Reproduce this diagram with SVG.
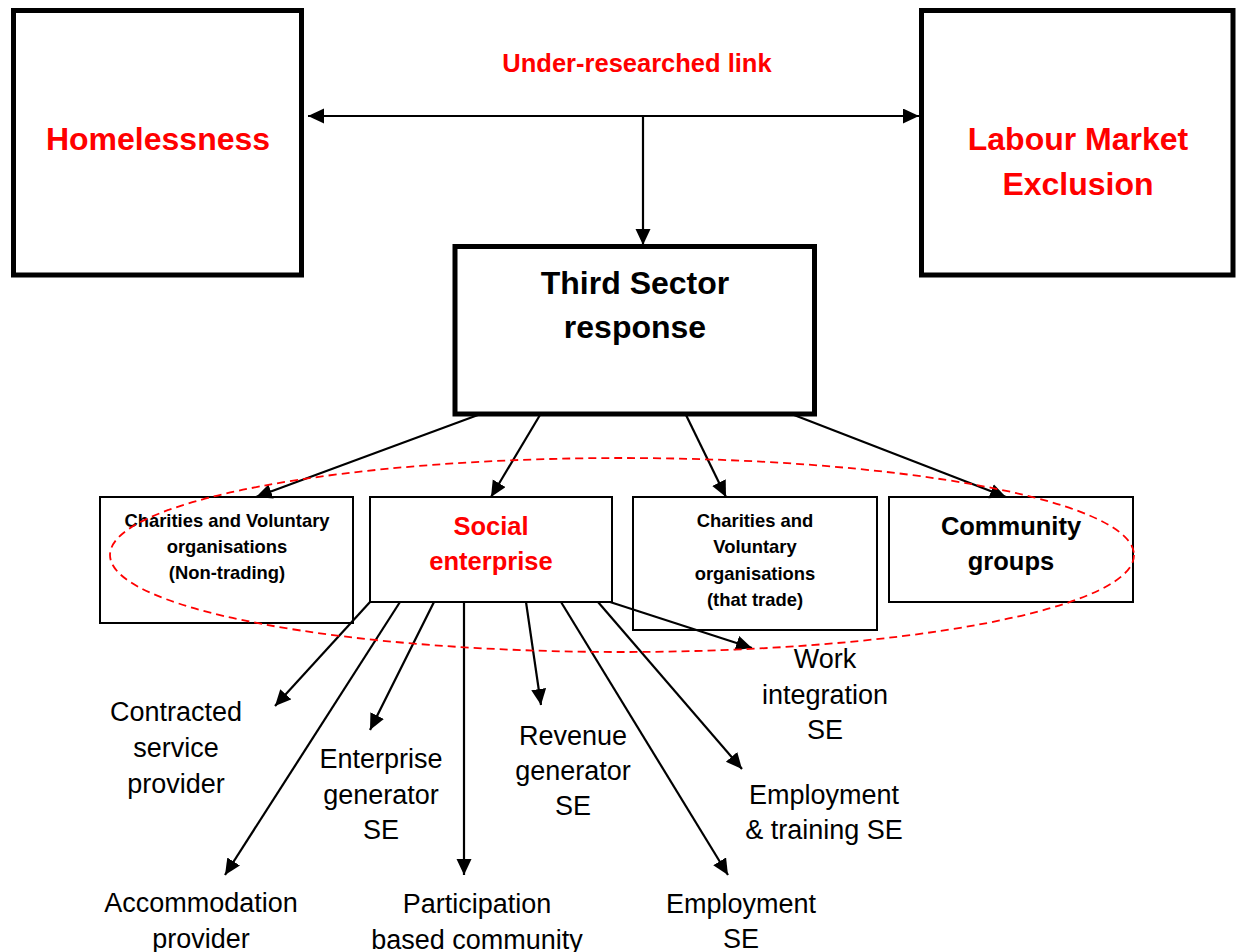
<svg xmlns="http://www.w3.org/2000/svg" width="1240" height="952" viewBox="0 0 1240 952">
  <defs>
    <marker id="arrow" markerUnits="userSpaceOnUse" markerWidth="17" markerHeight="16" refX="16" refY="7.5" orient="auto">
      <path d="M0,0 L16,7.5 L0,15 z" fill="#000"/>
    </marker>
    <style>
      text { font-family: "Liberation Sans", Arial, sans-serif; text-anchor: middle; }
      .big { fill: #fff; stroke: #000; stroke-width: 5; }
      .box { fill: #fff; stroke: #000; stroke-width: 2; }
      .title { font-size: 32px; font-weight: bold; }
      .red { fill: #ff0000; }
      .mid { font-size: 25.5px; font-weight: bold; }
      .small { font-size: 18.4px; font-weight: bold; }
      .label { font-size: 27px; fill: #000; }
      .conn line { stroke: #000; stroke-width: 2.2; marker-end: url(#arrow); }
      .ring { fill: none; stroke: #ff0000; stroke-width: 1.8; stroke-dasharray: 8 5; }
    </style>
  </defs>

  <rect width="1240" height="952" fill="#fff"/>

  <!-- top-level problem boxes -->
  <g id="homelessness">
    <rect class="big" x="13.5" y="10.5" width="288" height="264.5"/>
    <text class="title red" x="158" y="150">Homelessness</text>
  </g>

  <g id="labour-market-exclusion">
    <rect class="big" x="921.5" y="10.5" width="311.5" height="264.5"/>
    <text class="title red" x="1078" y="150">Labour Market</text>
    <text class="title red" x="1078" y="195">Exclusion</text>
  </g>

  <g id="link-label">
    <text class="mid red" x="637" y="72">Under-researched link</text>
  </g>

  <g id="third-sector">
    <rect class="big" x="455" y="246.5" width="359.5" height="167.5"/>
    <text class="title" x="635" y="294">Third Sector</text>
    <text class="title" x="635" y="338">response</text>
  </g>

  <!-- third sector organisation types -->
  <g id="charities-non-trading">
    <rect class="box" x="100" y="497" width="253" height="126"/>
    <text class="small" x="227" y="527">Charities and Voluntary</text>
    <text class="small" x="227" y="553">organisations</text>
    <text class="small" x="227" y="579">(Non-trading)</text>
  </g>

  <g id="social-enterprise">
    <rect class="box" x="370" y="497" width="242" height="105"/>
    <text class="mid red" x="491" y="535">Social</text>
    <text class="mid red" x="491" y="570">enterprise</text>
  </g>

  <g id="charities-trading">
    <rect class="box" x="633" y="497" width="244" height="133"/>
    <text class="small" x="755" y="527">Charities and</text>
    <text class="small" x="755" y="553">Voluntary</text>
    <text class="small" x="755" y="580">organisations</text>
    <text class="small" x="755" y="606">(that trade)</text>
  </g>

  <g id="community-groups">
    <rect class="box" x="889" y="497" width="244" height="105"/>
    <text class="mid" x="1011" y="535">Community</text>
    <text class="mid" x="1011" y="570">groups</text>
  </g>

  <!-- social enterprise sub-types -->
  <g id="contracted-service-provider">
    <text class="label" x="176" y="721">Contracted</text>
    <text class="label" x="176" y="757">service</text>
    <text class="label" x="176" y="793">provider</text>
  </g>

  <g id="accommodation-provider">
    <text class="label" x="201" y="912">Accommodation</text>
    <text class="label" x="201" y="948">provider</text>
  </g>

  <g id="enterprise-generator">
    <text class="label" x="381" y="768">Enterprise</text>
    <text class="label" x="381" y="804">generator</text>
    <text class="label" x="381" y="839">SE</text>
  </g>

  <g id="participation-community">
    <text class="label" x="477" y="913">Participation</text>
    <text class="label" x="477" y="949">based community</text>
  </g>

  <g id="revenue-generator">
    <text class="label" x="573" y="745">Revenue</text>
    <text class="label" x="573" y="780">generator</text>
    <text class="label" x="573" y="815">SE</text>
  </g>

  <g id="work-integration">
    <text class="label" x="825" y="668">Work</text>
    <text class="label" x="825" y="704">integration</text>
    <text class="label" x="825" y="739">SE</text>
  </g>

  <g id="employment-training">
    <text class="label" x="824" y="804">Employment</text>
    <text class="label" x="824" y="839">&amp; training SE</text>
  </g>

  <g id="employment">
    <text class="label" x="741" y="913">Employment</text>
    <text class="label" x="741" y="948">SE</text>
  </g>

  <!-- connectors -->
  <g id="connectors" class="conn">
    <line x1="643" y1="116" x2="308" y2="116"/>
    <line x1="643" y1="116" x2="919" y2="116"/>
    <line x1="643" y1="116" x2="643" y2="245"/>

    <line x1="478" y1="415" x2="256" y2="497"/>
    <line x1="540" y1="415" x2="491" y2="497"/>
    <line x1="686" y1="415" x2="726" y2="497"/>
    <line x1="794" y1="415" x2="1006" y2="497"/>

    <line x1="370" y1="602" x2="275" y2="706"/>
    <line x1="400" y1="602" x2="225" y2="875"/>
    <line x1="434" y1="602" x2="370" y2="730"/>
    <line x1="464" y1="602" x2="464" y2="875"/>
    <line x1="526" y1="602" x2="541" y2="705"/>
    <line x1="561" y1="602" x2="728" y2="875"/>
    <line x1="598" y1="602" x2="742" y2="769"/>
    <line x1="610" y1="602" x2="752" y2="648"/>
  </g>

  <!-- dashed grouping ring -->
  <ellipse class="ring" cx="622" cy="555" rx="512" ry="97"/>
</svg>
